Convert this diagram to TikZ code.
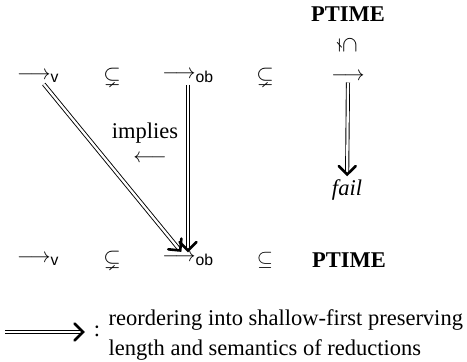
\documentclass[tikz,border=0pt]{standalone}
\usepackage{amssymb}
\usepackage{graphicx}
\usepackage{fontspec}
\setmainfont{Liberation Serif}
\setsansfont{Liberation Sans}
\usetikzlibrary{calc}
\newcommand\dblarrow[2]{%
  \path (#1) -- (#2) coordinate[pos=0] (dA) coordinate[pos=1] (dB);
  \draw[double, double distance=2.3pt, line width=0.9pt, shorten >=1.5pt] (dA) -- (dB);
  \draw[line width=2.6pt, line cap=round, line join=miter]
    ($(dB)!12pt!-45:(dA)$) -- (dB) -- ($(dB)!12pt!45:(dA)$);}
\begin{document}
\begin{tikzpicture}[x=1pt,y=-1pt,
  every node/.style={font=\fontsize{22.5}{30}\selectfont, inner sep=1.5pt}]
\useasboundingbox (0,0) rectangle (467,362);
% top row
\node (ptop) at (348,14) {\textbf{PTIME}};
\node (rot) at (348,45) {\rotatebox{-90}{$\subsetneq$}};
\node (tv) at (38,77) {$\longrightarrow_{\mathsf{v}}$};
\node (ts1) at (112,77) {$\subsetneq$};
\node (tob) at (188,77) {$\longrightarrow_{\mathsf{ob}}$};
\node (ts2) at (265,77) {$\subsetneq$};
\node (tarr) at (348,77) {$\longrightarrow$};
% middle
\node[inner sep=0pt] (impl) at (145,133) {implies};
\node[inner sep=0pt] (larr) at (150,159) {$\longleftarrow$};
\node[inner sep=5pt] (fail) at (347,190) {\textit{fail}};
% bottom row
\node (bv) at (38,260) {$\longrightarrow_{\mathsf{v}}$};
\node (bs1) at (112,260) {$\subsetneq$};
\node[outer sep=2pt] (bob) at (188,260) {$\longrightarrow_{\mathsf{ob}}$};
\node (bs2) at (265,260) {$\subseteq$};
\node (bpt) at (349,260) {\textbf{PTIME}};
% connectors
\dblarrow{tv}{bob}
\dblarrow{tob}{bob}
\dblarrow{tarr}{fail}
% legend
\coordinate (la) at (5,332);
\coordinate (lb) at (83,332);
\dblarrow{la}{lb}
\node (colon) at (97,331) {:};
\node[anchor=west, align=left] (leg) at (107,335) {reordering into shallow-first preserving\\length and semantics of reductions};
\end{tikzpicture}
\end{document}
